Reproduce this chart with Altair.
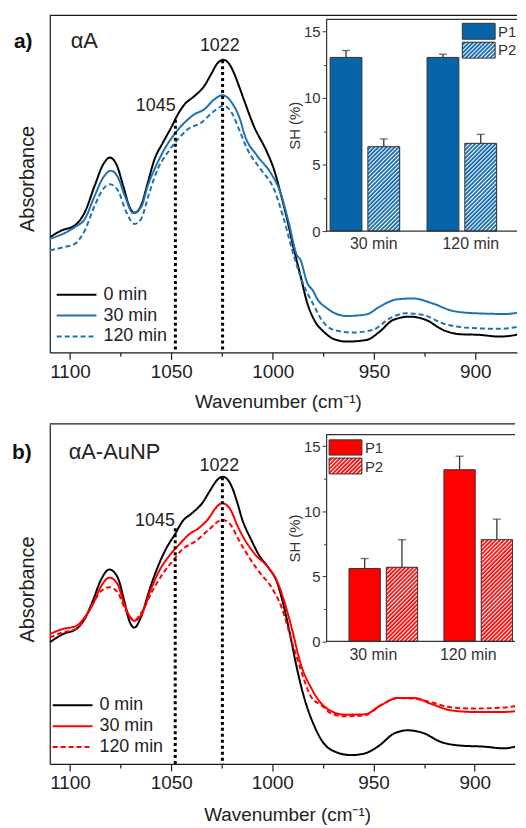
import urllib.parse
import altair as alt
import pandas as pd

FONT = "Liberation Sans"
INK = "#222222"
LBL = "#333333"
FRAME = "#1a1a1a"
EDGE = "#333333"
BLUE_LINE = "#1f72b2"
BLUE_BAR = "#0864a8"
RED = "#ff0000"

series_names = ["0 min", "30 min", "120 min"]

# ---------------- panel a spectra (absorbance, arbitrary units) ----------------
a_wn_0 = [1109.9, 1104.1, 1097.6, 1092.7, 1087.8, 1083.6, 1080.4, 1077.1, 1073.8, 1070.6,
          1068.1, 1064.9, 1061.6, 1058.3, 1054.2, 1050.1, 1046.8, 1043.6, 1038.7, 1033.8,
          1030.5, 1027.2, 1024.3, 1020.7, 1019.1, 1016.6, 1014.2, 1009.3, 1002.7, 999.4,
          996.2, 992.9, 989.6, 986.3, 983.1, 979.0, 974.9, 970.0, 963.4, 953.6,
          947.1, 940.6, 932.4, 924.2, 916.0, 907.8, 898.0, 888.2, 880.0, 875.4]
a_ab_0 = [0.342, 0.362, 0.377, 0.416, 0.495, 0.558, 0.578, 0.558, 0.495, 0.431,
          0.414, 0.436, 0.504, 0.573, 0.622, 0.667, 0.706, 0.735, 0.760, 0.790,
          0.824, 0.858, 0.868, 0.849, 0.829, 0.790, 0.750, 0.672, 0.593, 0.544,
          0.475, 0.396, 0.308, 0.229, 0.150, 0.091, 0.062, 0.040, 0.032, 0.037,
          0.062, 0.096, 0.106, 0.096, 0.067, 0.054, 0.052, 0.047, 0.052, 0.064]

a_wn_30 = [1109.9, 1097.6, 1092.7, 1087.8, 1083.6, 1079.9, 1076.3, 1073.0, 1068.9, 1064.9,
           1061.6, 1057.5, 1053.4, 1048.5, 1043.6, 1038.7, 1033.8, 1028.9, 1024.8, 1019.5,
           1015.8, 1014.2, 1007.6, 1001.1, 996.2, 992.1, 988.0, 986.3, 983.1, 979.8,
           978.1, 973.2, 963.4, 953.6, 947.1, 938.9, 930.7, 920.9, 911.1, 899.6,
           884.9, 875.4]
a_ab_30 = [0.337, 0.372, 0.396, 0.465, 0.519, 0.539, 0.519, 0.465, 0.414, 0.431,
           0.495, 0.554, 0.603, 0.647, 0.681, 0.706, 0.721, 0.750, 0.763, 0.735,
           0.686, 0.652, 0.583, 0.534, 0.475, 0.386, 0.288, 0.275, 0.209, 0.180,
           0.160, 0.131, 0.108, 0.113, 0.136, 0.157, 0.160, 0.145, 0.123, 0.116,
           0.114, 0.123]

a_wn_120 = [1109.9, 1102.5, 1097.6, 1092.7, 1087.8, 1083.6, 1080.4, 1076.3, 1072.2, 1068.1,
            1064.9, 1060.8, 1056.7, 1051.8, 1046.8, 1041.9, 1035.4, 1028.9, 1024.3, 1019.9,
            1016.6, 1012.5, 1006.0, 999.4, 994.5, 989.6, 984.7, 979.8, 976.5, 970.0,
            960.2, 950.4, 942.2, 934.0, 925.8, 916.0, 905.5, 888.2, 875.4]
a_ab_120 = [0.303, 0.313, 0.322, 0.362, 0.436, 0.485, 0.499, 0.480, 0.416, 0.381,
            0.396, 0.475, 0.544, 0.593, 0.632, 0.662, 0.681, 0.716, 0.732, 0.708,
            0.662, 0.603, 0.544, 0.485, 0.396, 0.288, 0.200, 0.141, 0.103, 0.067,
            0.059, 0.067, 0.101, 0.116, 0.111, 0.086, 0.074, 0.070, 0.080]

# ---------------- panel b spectra ----------------
b_wn_0 = [1110.0, 1103.5, 1096.9, 1092.8, 1088.7, 1084.6, 1080.5, 1076.4, 1073.2, 1070.7,
          1068.2, 1065.0, 1060.9, 1056.8, 1052.7, 1047.8, 1044.5, 1039.6, 1034.7, 1030.6,
          1027.3, 1024.5, 1020.4, 1017.5, 1015.1, 1010.1, 1006.8, 1001.9, 997.9, 994.6,
          991.3, 988.0, 983.9, 979.8, 975.7, 970.8, 961.0, 954.4, 947.9, 939.7,
          933.2, 925.0, 916.8, 907.0, 895.5, 885.7, 876.2]
b_ab_0 = [0.358, 0.382, 0.397, 0.426, 0.480, 0.543, 0.572, 0.548, 0.480, 0.421,
          0.401, 0.431, 0.509, 0.577, 0.631, 0.679, 0.713, 0.738, 0.767, 0.806,
          0.835, 0.845, 0.820, 0.772, 0.723, 0.655, 0.616, 0.577, 0.538, 0.470,
          0.382, 0.285, 0.187, 0.119, 0.070, 0.041, 0.026, 0.031, 0.051, 0.090,
          0.099, 0.090, 0.065, 0.054, 0.051, 0.046, 0.058]

b_wn_30 = [1110.0, 1103.5, 1096.9, 1092.8, 1088.7, 1084.6, 1080.5, 1076.4, 1073.2, 1068.2,
           1064.2, 1060.0, 1056.0, 1051.1, 1046.1, 1041.2, 1036.3, 1031.4, 1028.1, 1024.8,
           1020.7, 1017.5, 1015.1, 1008.5, 1001.9, 997.0, 993.7, 989.7, 986.5, 980.7,
           974.1, 964.3, 954.4, 946.3, 938.1, 929.9, 921.7, 911.9, 900.4, 885.7, 876.2]
b_ab_30 = [0.382, 0.397, 0.406, 0.431, 0.470, 0.523, 0.548, 0.528, 0.470, 0.421,
           0.445, 0.514, 0.567, 0.611, 0.645, 0.675, 0.694, 0.723, 0.752, 0.767,
           0.748, 0.704, 0.675, 0.616, 0.577, 0.528, 0.470, 0.382, 0.304, 0.222,
           0.168, 0.145, 0.146, 0.173, 0.194, 0.194, 0.177, 0.158, 0.153, 0.153, 0.158]

b_wn_120 = [1110.0, 1103.5, 1096.9, 1092.8, 1087.9, 1084.6, 1080.5, 1076.4, 1072.3, 1068.2,
            1064.2, 1059.3, 1054.3, 1049.4, 1044.5, 1037.9, 1031.4, 1024.8, 1020.7, 1016.7,
            1013.4, 1006.8, 1000.3, 995.4, 990.5, 986.4, 980.7, 975.8, 970.8, 964.3,
            954.4, 946.3, 938.1, 929.9, 921.7, 913.5, 902.0, 885.7, 876.2]
b_ab_120 = [0.372, 0.387, 0.397, 0.426, 0.480, 0.509, 0.520, 0.504, 0.450, 0.423,
            0.450, 0.509, 0.558, 0.596, 0.631, 0.655, 0.689, 0.718, 0.704, 0.660,
            0.626, 0.567, 0.518, 0.460, 0.363, 0.285, 0.196, 0.173, 0.148, 0.140,
            0.143, 0.173, 0.194, 0.192, 0.182, 0.168, 0.163, 0.166, 0.175]

# ---------------- inset bars: SH (%) ----------------
time_labels = ["30 min", "30 min", "120 min", "120 min"]
peak_names = ["P1", "P2", "P1", "P2"]
a_sh = [13.04, 6.34, 13.04, 6.59]
a_sh_top = [13.56, 6.92, 13.28, 7.26]
b_sh = [5.60, 5.70, 13.20, 7.82]
b_sh_top = [6.37, 7.82, 14.24, 9.40]
legend_peaks = ["P1", "P2"]

# ---------------- peak markers ----------------
marker_wn = [1048.0, 1024.7]
a_marker_top = [0.690, 0.867]
b_marker_top = [0.693, 0.843]
marker_text = ["1045", "1022"]
a_text_wn = [1057.7, 1026.1]
a_text_ab = [0.715, 0.894]
b_text_wn = [1058.0, 1026.2]
b_text_ab = [0.699, 0.861]

tick_values = [1100, 1075, 1050, 1025, 1000, 975, 950, 925, 900]
sh_ticks = [0, 2.5, 5, 7.5, 10, 12.5, 15]
SH_MAX = 15.9


def hatch_uri(color, w, h, period=2.9, white=1.15):
    svg = ("<svg xmlns='http://www.w3.org/2000/svg' width='%.2f' height='%.2f' viewBox='0 0 %.2f %.2f'>"
           "<defs><pattern id='h' width='%.2f' height='%.2f' patternUnits='userSpaceOnUse' "
           "patternTransform='rotate(45)'><rect width='%.2f' height='%.2f' fill='%s'/>"
           "<rect width='%.2f' height='%.2f' fill='#ffffff'/></pattern></defs>"
           "<rect width='100%%' height='100%%' fill='url(#h)'/></svg>") % (
        w, h, w, h, period, period, period, period, color, white, period)
    return "data:image/svg+xml;charset=utf-8," + urllib.parse.quote(svg)


def panel(cfg):
    W, H = cfg["w"], cfg["h"]
    rows = []
    for name, wn, ab in cfg["series"]:
        rows += [{"series": name, "wn": x, "ab": y} for x, y in zip(wn, ab)]
    df = pd.DataFrame(rows)

    leg = alt.Legend(title=None, orient="none", legendX=cfg["lgx"], legendY=cfg["lgy"],
                     symbolType="M-4,0H4", symbolSize=100, symbolStrokeWidth=2,
                     labelFontSize=18, labelOffset=cfg["lgoff"], rowPadding=3, padding=0,
                     labelColor=INK, labelFont=FONT)
    xs = alt.X("wn:Q", title="Wavenumber (cm\u207b\u00b9)",
               scale=alt.Scale(domain=cfg["xdom"], nice=False, zero=False),
               axis=alt.Axis(values=tick_values, format="d",
                             labelExpr="datum.value % 50 === 0 ? datum.label : ''",
                             tickSize={"condition": {"test": "datum.value % 50 === 0", "value": 7}, "value": 4},
                             tickWidth=1.2, domainWidth=1.2, labelFontSize=19, titleFontSize=19,
                             labelPadding=3, titlePadding=cfg["tpad"], titleX=cfg["titlex"],
                             labelColor=INK, titleColor=INK, grid=False))
    ys = alt.Y("ab:Q", scale=alt.Scale(domain=[0, 1], nice=False, zero=False),
               axis=alt.Axis(title="Absorbance", labels=False, ticks=False, grid=False,
                             titleFontSize=20, titlePadding=12, titleY=cfg["titley"],
                             domainWidth=1.2, titleColor=INK))
    lines = alt.Chart(df).mark_line(strokeWidth=2, clip=True, interpolate="monotone").encode(
        x=xs, y=ys,
        color=alt.Color("series:N", scale=alt.Scale(domain=series_names,
                                                     range=["#000000", cfg["line"], cfg["line"]]),
                        legend=leg),
        strokeDash=alt.StrokeDash("series:N", scale=alt.Scale(domain=series_names,
                                                               range=[[1, 0], [1, 0], [5, 3]]),
                                  legend=leg),
    )
    dfm = pd.DataFrame({"wn": marker_wn, "ab": cfg["mtop"]})
    rules = alt.Chart(dfm).mark_rule(color="#000000", strokeWidth=3, strokeDash=[3, 3]).encode(
        x="wn:Q", y="ab:Q", y2=alt.datum(0))
    dft = pd.DataFrame({"wn": cfg["twn"], "ab": cfg["tab"], "label": marker_text})
    texts = alt.Chart(dft).mark_text(fontSize=18, font=FONT, color=INK, baseline="alphabetic").encode(
        x="wn:Q", y="ab:Q", text="label:N")
    letter = alt.Chart(pd.DataFrame({"t": [cfg["letter"]]})).mark_text(
        x=cfg["letter_x"], y=cfg["letter_y"], align="left", baseline="alphabetic",
        fontSize=21, fontWeight="bold", font=FONT, color="#111111").encode(text="t:N")
    name = alt.Chart(pd.DataFrame({"t": [cfg["name"]]})).mark_text(
        x=cfg["name_x"], y=cfg["letter_y"], align="left", baseline="alphabetic",
        fontSize=22, font=FONT, color=INK).encode(text="t:N")
    top = alt.Chart(pd.DataFrame({"k": [0]})).mark_rule(color=FRAME, strokeWidth=1.2).encode(
        x=alt.value(0), x2=alt.value(W), y=alt.value(0))
    main = alt.layer(lines, rules, texts, letter, name, top)

    # ---------------- inset ----------------
    dfs = pd.DataFrame({"time": time_labels, "peak": peak_names, "sh": cfg["sh"], "top": cfg["top"]})
    ileft = cfg["ileft"]
    b0, b1 = cfg["brange"]
    pi, opi = cfg["pi"], cfg["opi"]
    yr0, yr1 = cfg["yrange"]
    xi = alt.X("time:N", scale=alt.Scale(domain=["30 min", "120 min"], range=[b0, b1],
                                         paddingInner=pi, paddingOuter=0),
               axis=alt.Axis(orient="bottom", offset=-(H - yr0), title=None, ticks=False, labelAngle=0,
                             domain=False, labelFontSize=16, labelOffset=cfg["lbloff"], labelPadding=5,
                             labelColor=LBL, labelFontWeight="normal", labelFont=FONT))
    xo = alt.XOffset("peak:N", scale=alt.Scale(domain=["P1", "P2"], paddingInner=opi, paddingOuter=0))
    ysc = alt.Scale(domain=[0, SH_MAX], range=[yr0, yr1], nice=False, zero=False)
    yax = alt.Axis(orient="left", offset=-ileft, title="SH (%)", values=sh_ticks,
                   labelExpr="datum.value % 5 === 0 ? datum.label : ''",
                   tickSize={"condition": {"test": "datum.value % 5 === 0", "value": 4}, "value": 2.5},
                   labelFontSize=15, titleFontSize=15, titleFontWeight="normal", titlePadding=1,
                   labelPadding=2, domainColor=EDGE, tickColor=EDGE, labelColor=LBL, titleColor=LBL,
                   domainWidth=1.2, grid=False)
    yi = alt.Y("sh:Q", scale=ysc, axis=yax)
    ytop = alt.Y("top:Q", scale=ysc, axis=yax)

    step = (b1 - b0) / (2 - pi)
    bw = step * (1 - pi)
    barw = bw / (2 - opi) * (1 - opi)
    pxu = (yr0 - yr1) / SH_MAX

    layers = [alt.Chart(dfs).mark_bar(fill=cfg["bar"], strokeWidth=0).encode(
        x=xi, xOffset=xo, y=yi)]
    for t, pk, v in zip(time_labels, peak_names, cfg["sh"]):
        if pk != "P2":
            continue
        layers.append(alt.Chart(dfs).transform_filter(
            (alt.datum.peak == "P2") & (alt.datum.time == t)).mark_image(
            url=hatch_uri(cfg["bar"], barw, v * pxu), aspect=False).encode(
            x=xi, xOffset=xo, y=yi, y2=alt.datum(0)))
    layers.append(alt.Chart(dfs).mark_bar(fill="transparent", stroke=EDGE, strokeWidth=1).encode(
        x=xi, xOffset=xo, y=yi))
    err = alt.Chart(dfs).mark_rule(color=EDGE, strokeWidth=1.3).encode(
        x=xi, xOffset=xo, y=yi, y2="top:Q")
    cap = alt.Chart(dfs).mark_tick(color=EDGE, thickness=1.3, size=8).encode(
        x=xi, xOffset=xo, y=ytop)
    layers += [err, cap]

    lx0, lx1 = cfg["lgbox_x"]
    for (by0, by1), pk, ty in zip(cfg["lgbox_y"], legend_peaks, cfg["lgtext_y"]):
        box = dict(x=alt.value(lx0), x2=alt.value(lx1), y=alt.value(by0), y2=alt.value(by1))
        one = pd.DataFrame({"k": [pk]})
        layers.append(alt.Chart(one).mark_rect(fill=cfg["bar"], strokeWidth=0).encode(**box))
        if pk == "P2":
            layers.append(alt.Chart(one).mark_image(
                url=hatch_uri(cfg["bar"], lx1 - lx0, by1 - by0), aspect=False).encode(**box))
        layers.append(alt.Chart(one).mark_rect(fill="transparent", stroke=EDGE, strokeWidth=1).encode(**box))
        layers.append(alt.Chart(one).mark_text(
            x=lx1 + 3, y=ty, align="left", baseline="alphabetic", fontSize=15, font=FONT,
            color=LBL).encode(text="k:N"))
    frame = pd.DataFrame({"k": [0]})
    layers.append(alt.Chart(frame).mark_rule(color=EDGE, strokeWidth=1.2).encode(
        x=alt.value(ileft), x2=alt.value(W), y=alt.value(yr1)))
    layers.append(alt.Chart(frame).mark_rule(color=EDGE, strokeWidth=1.2).encode(
        x=alt.value(ileft), x2=alt.value(W), y=alt.value(yr0)))
    inset = alt.layer(*layers)

    return alt.layer(main, inset).resolve_scale(x="independent", y="independent").properties(
        width=W, height=H)


cfg_a = dict(
    w=470, h=339, xdom=[1110, 879.4], line=BLUE_LINE, bar=BLUE_BAR,
    series=[("0 min", a_wn_0, a_ab_0), ("30 min", a_wn_30, a_ab_30), ("120 min", a_wn_120, a_ab_120)],
    lgx=18, lgy=272, lgoff=18, titlex=229.5, titley=164, tpad=11,
    mtop=a_marker_top, twn=a_text_wn, tab=a_text_ab,
    letter="a)", letter_x=-36, letter_y=33, name="\u03b1A", name_x=21,
    sh=a_sh, top=a_sh_top, ileft=278, brange=(282, 449.5), pi=0.282, opi=0.158,
    yrange=(217, 4), lbloff=9,
    lgbox_x=(415, 448), lgbox_y=[(8, 24), (27, 43)], lgtext_y=[21.5, 40],
)
cfg_b = dict(
    w=468, h=342, xdom=[1110, 880.1], line=RED, bar=RED,
    series=[("0 min", b_wn_0, b_ab_0), ("30 min", b_wn_30, b_ab_30), ("120 min", b_wn_120, b_ab_120)],
    lgx=14, lgy=274, lgoff=18, titlex=238.7, titley=166, tpad=13,
    mtop=b_marker_top, twn=b_text_wn, tab=b_text_ab,
    letter="b)", letter_x=-38, letter_y=35, name="\u03b1A-AuNP", name_x=19,
    sh=b_sh, top=b_sh_top, ileft=278, brange=(301, 465.5), pi=0.277, opi=0.16,
    yrange=(218.7, 10.7), lbloff=-10,
    lgbox_x=(281, 314), lgbox_y=[(16, 31.3), (34.3, 50.3)], lgtext_y=[29.7, 48],
)

chart = alt.vconcat(panel(cfg_a), panel(cfg_b), spacing=12).resolve_scale(
    color="independent", strokeDash="independent", xOffset="independent"
).resolve_legend(color="independent", strokeDash="independent").properties(
    padding={"left": 4, "top": 4, "right": 0, "bottom": 0}
).configure_view(stroke=None).configure_axis(
    labelFont=FONT, titleFont=FONT, titleFontWeight="normal", domainColor=FRAME, tickColor=FRAME
).configure_text(font=FONT)

chart.save("out.html", embed_options={"renderer": "svg", "actions": False})
